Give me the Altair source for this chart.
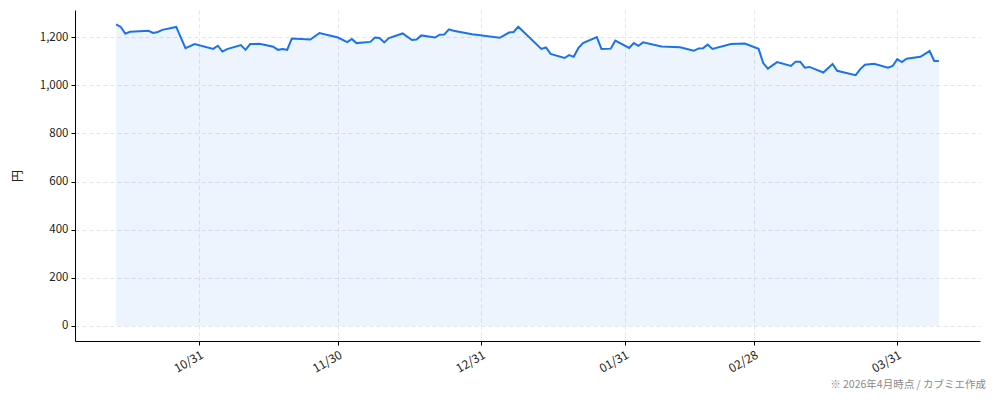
import altair as alt
import pandas as pd

# Dates as they sit on the axis, and closing prices (円)
dates = [
    "2025-10-13", "2025-10-14", "2025-10-15", "2025-10-16", "2025-10-20", "2025-10-21",
    "2025-10-22", "2025-10-23", "2025-10-26", "2025-10-28", "2025-10-30", "2025-11-03",
    "2025-11-04", "2025-11-05", "2025-11-06", "2025-11-09", "2025-11-10", "2025-11-11",
    "2025-11-13", "2025-11-16", "2025-11-17", "2025-11-18", "2025-11-19", "2025-11-20",
    "2025-11-24", "2025-11-26", "2025-11-30", "2025-12-02", "2025-12-03", "2025-12-04",
    "2025-12-07", "2025-12-08", "2025-12-09", "2025-12-10", "2025-12-11", "2025-12-14",
    "2025-12-16", "2025-12-17", "2025-12-18", "2025-12-21", "2025-12-22", "2025-12-23",
    "2025-12-24", "2025-12-25", "2025-12-29", "2026-01-04", "2026-01-06", "2026-01-07",
    "2026-01-08", "2026-01-13", "2026-01-14", "2026-01-15", "2026-01-18", "2026-01-19",
    "2026-01-20", "2026-01-21", "2026-01-22", "2026-01-25", "2026-01-26", "2026-01-28",
    "2026-01-29", "2026-02-01", "2026-02-02", "2026-02-03", "2026-02-04", "2026-02-08",
    "2026-02-12", "2026-02-15", "2026-02-16", "2026-02-17", "2026-02-18", "2026-02-19",
    "2026-02-23", "2026-02-26", "2026-03-01", "2026-03-02", "2026-03-03", "2026-03-05",
    "2026-03-08", "2026-03-09", "2026-03-10", "2026-03-11", "2026-03-12", "2026-03-15",
    "2026-03-17", "2026-03-18", "2026-03-22", "2026-03-23", "2026-03-24", "2026-03-26",
    "2026-03-29", "2026-03-30", "2026-03-31", "2026-04-01", "2026-04-02", "2026-04-05",
    "2026-04-07", "2026-04-08", "2026-04-09",
]
prices = [
    1253, 1242, 1214, 1222, 1226, 1217,
    1221, 1230, 1242, 1154, 1171, 1151,
    1164, 1140, 1150, 1167, 1147, 1171,
    1172, 1160, 1147, 1150, 1147, 1194,
    1190, 1217, 1198, 1179, 1192, 1175,
    1180, 1198, 1196, 1178, 1196, 1215,
    1188, 1190, 1207, 1198, 1210, 1211,
    1232, 1226, 1212, 1197, 1219, 1221,
    1243, 1151, 1157, 1130, 1113, 1125,
    1118, 1154, 1175, 1200, 1151, 1152,
    1185, 1155, 1175, 1164, 1178, 1161,
    1158, 1143, 1153, 1154, 1169, 1151,
    1171, 1173, 1151, 1092, 1069, 1096,
    1080, 1098, 1098, 1073, 1076, 1053,
    1088, 1060, 1042, 1067, 1085, 1089,
    1073, 1080, 1108, 1096, 1110, 1118,
    1142, 1101, 1101,
]
tick_dates = [(2025, 10, 31), (2025, 11, 30), (2025, 12, 31), (2026, 1, 31), (2026, 2, 28), (2026, 3, 31)]
y_ticks = [0, 200, 400, 600, 800, 1000, 1200]
y_title = "円"
footer = "※ 2026年4月時点 / カブミエ作成"

df = pd.DataFrame({"date": dates, "price": prices})

x_domain = [
    alt.DateTime(year=2025, month=10, date=4, hours=2, minutes=24, utc=True),
    alt.DateTime(year=2026, month=4, date=17, hours=21, minutes=36, utc=True),
]
tick_vals = [alt.DateTime(year=y, month=m, date=d, utc=True) for (y, m, d) in tick_dates]

FONT = "Noto Sans CJK JP"
BLUE = "#1a73e8"
GRID = "#dcdfe6"

x_axis = alt.Axis(
    values=tick_vals, labelExpr="utcFormat(datum.value, '%m/%d')", title=None,
    labelAngle=330, labelAlign="right", labelBaseline="top", labelPadding=4,
    grid=True, gridColor=GRID, gridDash=[4, 3], gridWidth=0.8,
    domainColor="#000000", domainWidth=1, tickColor="#000000", tickSize=4,
    labelFont=FONT, labelFontSize=12, labelColor="#222222", labelOverlap=False,
)
y_axis = alt.Axis(
    values=y_ticks, format=",d", title=y_title, titleFont=FONT, titleFontSize=12,
    titleFontWeight="normal", titleColor="#222222", titlePadding=15,
    grid=True, gridColor=GRID, gridDash=[4, 3], gridWidth=0.8,
    domainColor="#000000", domainWidth=1, tickColor="#000000", tickSize=4,
    labelFont=FONT, labelFontSize=11.5, labelColor="#222222", labelPadding=3,
)
x_scale = alt.Scale(type="utc", domain=x_domain, nice=False)
y_scale = alt.Scale(domain=[-62.5, 1312.5], nice=False, zero=False)

base = alt.Chart(df)
area = base.mark_area(color=BLUE, opacity=0.08).encode(
    x=alt.X("date:T", scale=x_scale, axis=x_axis),
    y=alt.Y("price:Q", stack="zero", scale=y_scale, axis=y_axis),
)
line = base.mark_line(color=BLUE, strokeWidth=2).encode(
    x=alt.X("date:T", scale=x_scale, axis=x_axis),
    y=alt.Y("price:Q", scale=y_scale, axis=y_axis),
)

foot = alt.Chart(pd.DataFrame({"t": [footer]})).mark_text(
    align="right", baseline="alphabetic", font=FONT, fontSize=10.5, color="#8a8a8a"
).encode(text="t:N", x=alt.value(911), y=alt.value(378))

chart = alt.layer(area, line, foot).properties(
    width=905, height=331,
    background="white",
    autosize=alt.AutoSizeParams(type="none"),
    padding={"left": 67, "top": 2, "right": 6, "bottom": 52},
).configure_view(stroke=None)

chart.save("out.html", embed_options={"renderer": "svg", "actions": False})
